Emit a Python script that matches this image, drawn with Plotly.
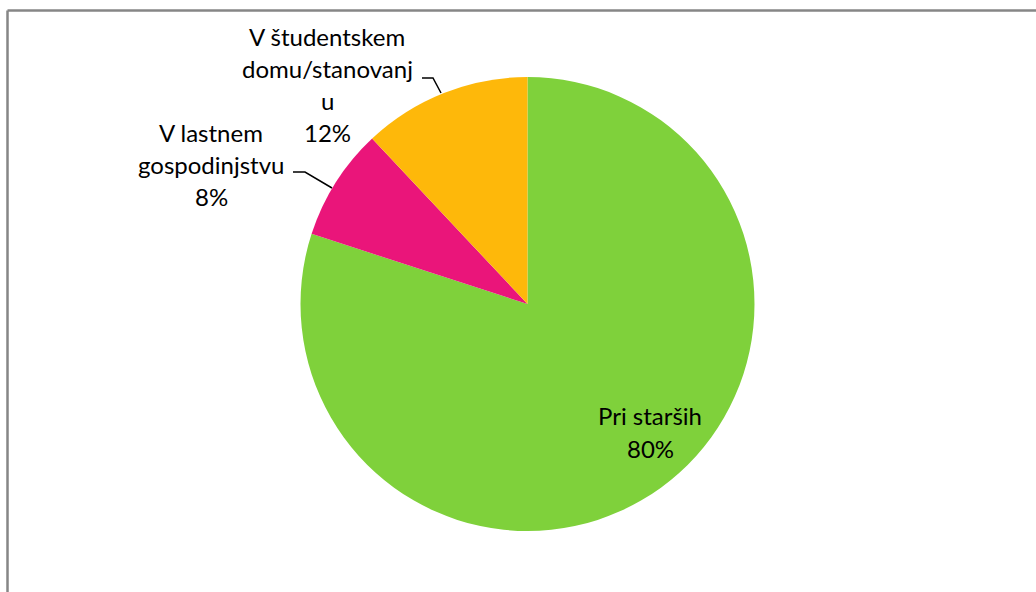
import plotly.graph_objects as go

# ---- data ----
categories = ["Pri starših", "V lastnem gospodinjstvu", "V študentskem domu/stanovanju"]
values = [80, 8, 12]
colors = ["#7FD13B", "#EA157A", "#FEB80A"]
# label text as it wraps in the reference
label_lines = [["Pri starših"], ["V lastnem", "gospodinjstvu"], ["V študentskem", "domu/stanovanj", "u"]]

W, H = 1036, 592
total = sum(values)
pct_text = [f"{v / total:.0%}" for v in values]

def px(x):
    return x / W

def py(y):
    return (H - y) / H

# pie geometry (pixels)
cx, cy, r = 527.5, 304, 227

fig = go.Figure(go.Pie(
    labels=categories,
    values=values,
    marker=dict(colors=colors, line=dict(width=0)),
    sort=False,
    direction="clockwise",
    rotation=0,
    textinfo="none",
    hoverinfo="label+percent",
    showlegend=False,
    domain=dict(x=[px(cx - r), px(cx + r)], y=[py(cy + r), py(cy - r)]),
))

# label layout (centre x, first-line visual centre y, line step)
label_pos = [(650, 418), (211, 134), (327, 38)]
step = 32.3
fs = 24
font = dict(family="Lato, 'Open Sans', sans-serif", size=fs, color="#000000")
annotations = []
for lines, pct, (lx, ly) in zip(label_lines, pct_text, label_pos):
    allines = lines + [pct]
    for i, t in enumerate(allines):
        annotations.append(dict(
            x=px(lx), y=py(ly + i * step - 2), xref="paper", yref="paper",
            text=t, showarrow=False, xanchor="center", yanchor="middle", font=font,
        ))

shapes = []
# leader lines (pixel points)
leaders = [
    [(293, 172), (305, 172), (332, 188)],
    [(422, 78), (433, 78), (441, 93)],
]
for pts in leaders:
    path = "M " + " L ".join(f"{px(x)},{py(y)}" for x, y in pts)
    shapes.append(dict(type="path", xref="paper", yref="paper", path=path,
                       line=dict(color="#000000", width=1.5)))

# chart-area border (only top and left visible in frame)
shapes.append(dict(type="line", xref="paper", yref="paper",
                   x0=px(7.5), y0=py(10.5), x1=px(W + 5), y1=py(10.5),
                   line=dict(color="#868686", width=2.5)))
shapes.append(dict(type="line", xref="paper", yref="paper",
                   x0=px(7.5), y0=py(10.5), x1=px(7.5), y1=py(H + 5),
                   line=dict(color="#868686", width=2.5)))

fig.update_layout(
    width=W, height=H,
    margin=dict(l=0, r=0, t=0, b=0),
    paper_bgcolor="#FFFFFF",
    plot_bgcolor="#FFFFFF",
    annotations=annotations,
    shapes=shapes,
)

fig.write_html(
    "out.html",
    config={"displayModeBar": False},
    post_script="document.body.style.margin='0';document.body.style.overflow='hidden';",
)
